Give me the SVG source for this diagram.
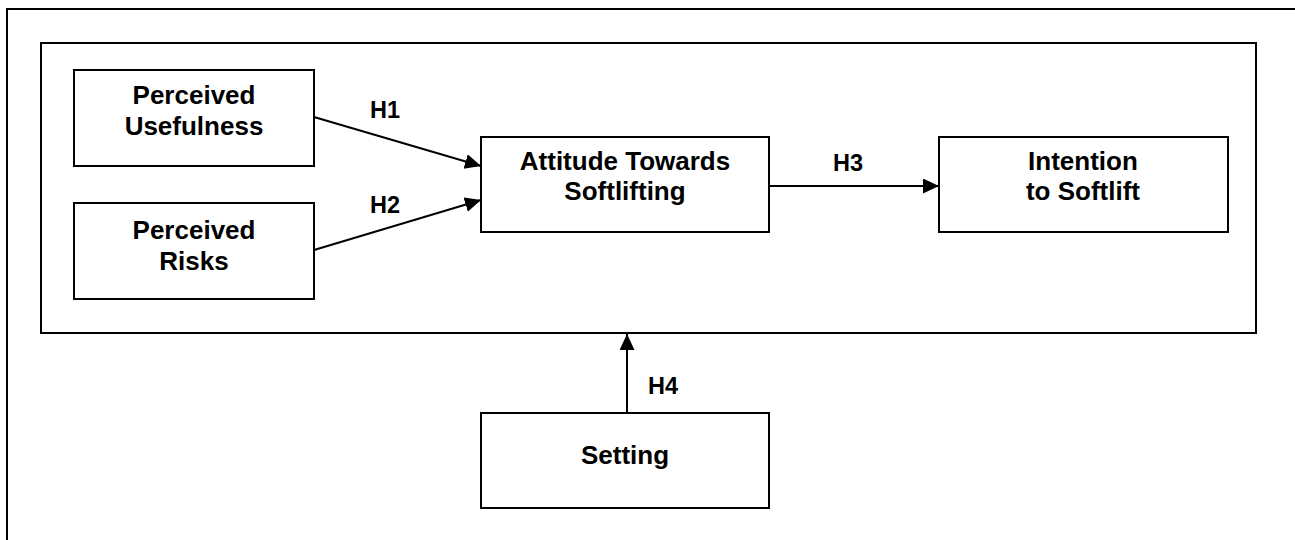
<svg xmlns="http://www.w3.org/2000/svg" width="1295" height="540" viewBox="0 0 1295 540">
<defs>
<marker id="arr" markerUnits="userSpaceOnUse" markerWidth="18" markerHeight="16" refX="16" refY="7.5" orient="auto">
<path d="M0,0 L16,7.5 L0,15 Z" fill="#000"/>
</marker>
<style>
.box{fill:#fff;stroke:#000;stroke-width:2}
.frame{fill:none;stroke:#000;stroke-width:2}
.t{font-family:"Liberation Sans",Arial,sans-serif;font-weight:bold;font-size:26px;text-anchor:middle;fill:#000}
.h{font-family:"Liberation Sans",Arial,sans-serif;font-weight:bold;font-size:23.5px;fill:#000}
.c{stroke:#000;stroke-width:2;fill:none;marker-end:url(#arr)}
</style>
</defs>
<rect width="1295" height="540" fill="#fff"/>
<path class="frame" d="M7,545 L7,9 L1300,9"/>
<rect class="frame" x="41" y="43" width="1215" height="290"/>
<g id="pu">
<rect class="box" x="74" y="70" width="240" height="96"/>
<text class="t" x="194" y="104">Perceived</text>
<text class="t" x="194" y="135">Usefulness</text>
</g>
<g id="pr">
<rect class="box" x="74" y="203" width="240" height="96"/>
<text class="t" x="194" y="239">Perceived</text>
<text class="t" x="194" y="270">Risks</text>
</g>
<g id="att">
<rect class="box" x="481" y="137" width="288" height="95"/>
<text class="t" x="625" y="170">Attitude Towards</text>
<text class="t" x="625" y="200">Softlifting</text>
</g>
<g id="int">
<rect class="box" x="939" y="137" width="289" height="95"/>
<text class="t" x="1083" y="170">Intention</text>
<text class="t" x="1083" y="200">to Softlift</text>
</g>
<g id="set">
<rect class="box" x="481" y="413" width="288" height="95"/>
<text class="t" x="625" y="464">Setting</text>
</g>
<g id="connectors">
<line class="c" x1="314" y1="117" x2="481" y2="166"/>
<line class="c" x1="314" y1="250" x2="481" y2="200"/>
<line class="c" x1="769" y1="186" x2="939" y2="186"/>
<line class="c" x1="627" y1="413" x2="627" y2="334"/>
<text class="h" x="370" y="118">H1</text>
<text class="h" x="370" y="213">H2</text>
<text class="h" x="833" y="171">H3</text>
<text class="h" x="648" y="394">H4</text>
</g>
</svg>
